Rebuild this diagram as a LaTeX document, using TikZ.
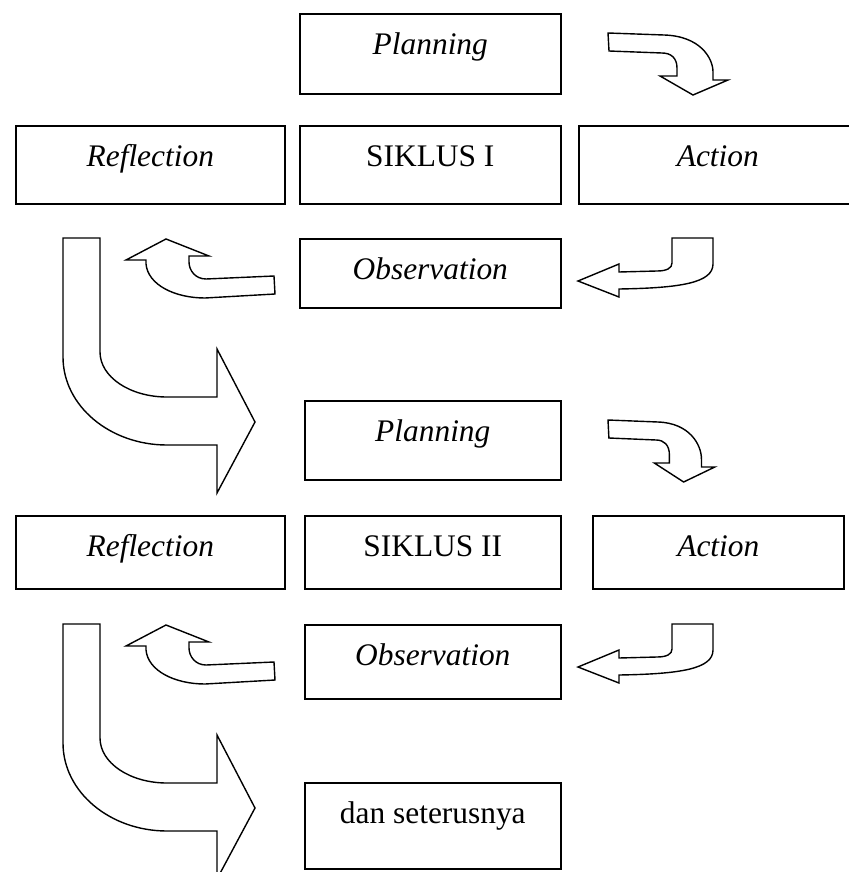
\documentclass[tikz,border=0pt]{standalone}
\usepackage{fontspec}
\setmainfont{Liberation Serif}

\newcommand{\hurufkotak}{\fontsize{15.7}{18}\selectfont}

\begin{document}
\begin{tikzpicture}[x=0.5pt,y=-0.5pt,
    kotak/.style={draw, line width=0.8pt, inner sep=0pt, anchor=north west,
      text height=20.5pt, font=\hurufkotak},
    panah/.style={draw, line width=0.7pt, fill=white, line join=miter}]
  \useasboundingbox (0,0) rectangle (849,872);

  % Siklus I
  \node[kotak, minimum width=130.5pt, text depth=19.5pt] (plan1) at (299,13) {\textit{Planning}};
  \node[kotak, minimum width=134.5pt, text depth=18.5pt] (refl1) at (15,125) {\textit{Reflection}};
  \node[kotak, minimum width=130.5pt, text depth=18.5pt] (sik1) at (299,125) {SIKLUS I};
  \node[kotak, minimum width=139pt, text depth=18.5pt] (act1) at (578,125) {\textit{Action}};
  \node[kotak, minimum width=130.5pt, text depth=14pt] (obs1) at (299,238) {\textit{Observation}};

  % Siklus II
  \node[kotak, minimum width=128pt, text depth=19pt] (plan2) at (304,400) {\textit{Planning}};
  \node[kotak, minimum width=134.5pt, text depth=16pt] (refl2) at (15,515) {\textit{Reflection}};
  \node[kotak, minimum width=128pt, text depth=16pt] (sik2) at (304,515) {SIKLUS II};
  \node[kotak, minimum width=125.5pt, text depth=16pt] (act2) at (592,515) {\textit{Action}};
  \node[kotak, minimum width=128pt, text depth=16.5pt] (obs2) at (304,624) {\textit{Observation}};
  \node[kotak, minimum width=128pt, text depth=22.5pt] (lanjut) at (304,782) {dan seterusnya};

  % Planning -> Action
  \path[panah] (608,33) -- (664,35) .. controls (700,36) and (713,58) .. (713,72) -- (713,80)
    -- (728,80) -- (693,95) -- (660,76) -- (677,76) -- (677,68)
    .. controls (677,58) and (671,53) .. (662,53) -- (609,51) -- cycle;
  \begin{scope}[shift={(608,387)}, xscale=0.89, shift={(-608,0)}]
    \path[panah] (608,33) -- (664,35) .. controls (700,36) and (713,58) .. (713,72) -- (713,80)
      -- (728,80) -- (693,95) -- (660,76) -- (677,76) -- (677,68)
      .. controls (677,58) and (671,53) .. (662,53) -- (609,51) -- cycle;
  \end{scope}

  \foreach \dy in {0,386} {
    \begin{scope}[shift={(0,\dy)}]
      % Action -> Observation
      \path[panah] (713,238) -- (713,264) .. controls (713,283) and (680,288) .. (619,289)
        -- (619,297) -- (578,281) -- (619,264) -- (619,272) -- (657,271)
        .. controls (667,271) and (672,268) .. (672,263) -- (672,238) -- cycle;
      % Observation -> Reflection
      \path[panah] (274,276) -- (206,279) .. controls (195,279) and (189,270) .. (189,262)
        -- (189,256) -- (209,256) -- (166,239) -- (126,260) -- (146,260) -- (146,264)
        .. controls (148,285) and (175,298) .. (205,298) -- (275,294) -- cycle;
      % Reflection -> siklus berikutnya
      \path[panah] (63,238) -- (63,357) .. controls (63,406) and (110,445) .. (167,445)
        -- (217,445) -- (217,493) -- (255,422) -- (217,349) -- (217,397) -- (167,397)
        .. controls (130,397) and (100,377) .. (100,352) -- (100,238) -- cycle;
    \end{scope}
  }
\end{tikzpicture}
\end{document}
